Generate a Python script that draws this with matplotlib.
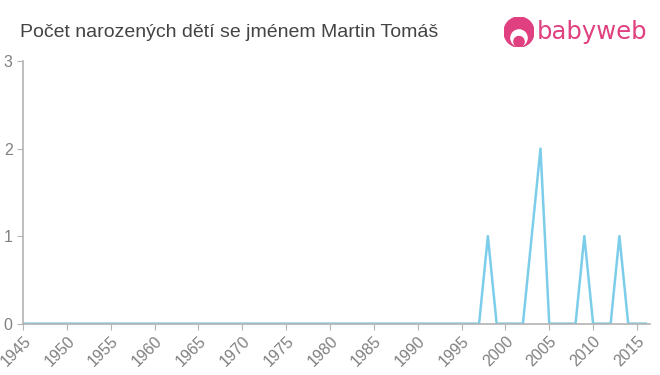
#!/usr/bin/env python3

import numpy as np
import matplotlib.pyplot as plt
from matplotlib.patches import Circle

plt.rcParams['font.family'] = ['Liberation Sans', 'DejaVu Sans']

years = list(range(1945, 2017))
peaks = {1998: 1, 2003: 1, 2004: 2, 2009: 1, 2013: 1}
counts = [peaks.get(y, 0) for y in years]

xticks = list(range(1945, 2020, 5))
yticks = [0, 1, 2, 3]

title = "Počet narozených dětí se jménem Martin Tomáš"
axis_color = "#b3b3b3"
label_color = "#808080"
line_color = "#7ccde9"
pink = "#e0407f"


def draw_logo(fig):
    W, H = 660, 375
    lax = fig.add_axes([504 / W, (375 - 47) / H, 30 / W, 30 / H])
    lax.set_xlim(0, 1)
    lax.set_ylim(0, 1)
    lax.axis("off")
    lax.add_patch(Circle((0.5, 0.5), 0.5, color=pink))
    lax.add_patch(Circle((0.5, 0.3), 0.27, color="white"))
    lax.add_patch(Circle((0.5, 0.18), 0.17, color=pink))
    fig.text(537 / W, 1 - 39 / H, "babyweb", color=pink, fontsize=17.5,
             fontfamily="DejaVu Sans", va="baseline", ha="left")


def main():
    fig = plt.figure(figsize=(6.6, 3.75), dpi=100)
    ax = fig.add_axes([0.035, 0.137, 0.95, 0.7])
    ax.plot(years, counts, color=line_color, lw=1.8)

    ax.set_xlim(1945, 2016.5)
    ax.set_ylim(0, 3)
    ax.set_xticks(xticks)
    ax.set_yticks(yticks)
    ax.set_xticklabels([str(x) for x in xticks], rotation=45, ha="right",
                       rotation_mode="anchor")
    ax.tick_params(colors=axis_color, labelcolor=label_color, labelsize=11.5,
                   length=4)
    ax.tick_params(axis="x", pad=3)
    for s in ["top", "right"]:
        ax.spines[s].set_visible(False)
    for s in ["left", "bottom"]:
        ax.spines[s].set_color(axis_color)
        ax.spines[s].set_linewidth(1.2)

    fig.text(20 / 660, 1 - 36.7 / 375, title, fontsize=14, color="#444444",
             va="baseline")
    draw_logo(fig)

    fig.savefig("out.png", dpi=100)


if __name__ == "__main__":
    main()
